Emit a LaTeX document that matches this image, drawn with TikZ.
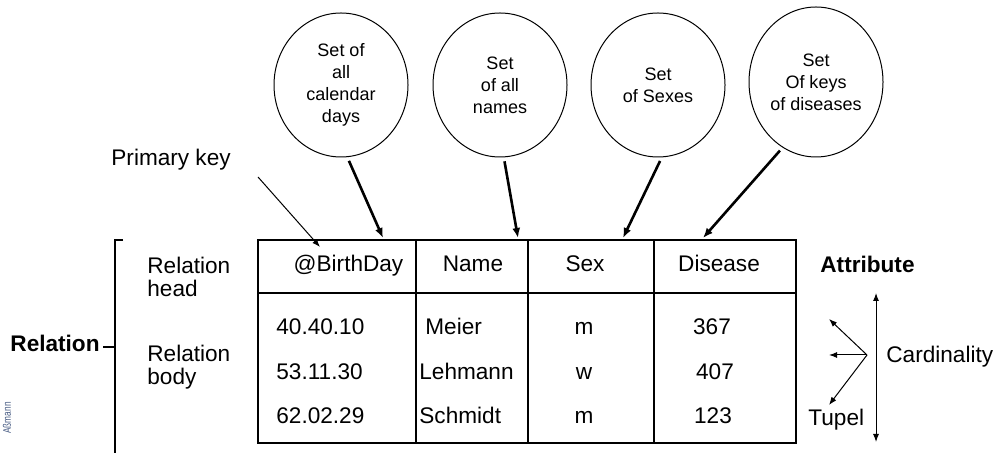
\documentclass[tikz,border=0pt]{standalone}
\usepackage{fontspec}
\setmainfont{Liberation Sans}
\usetikzlibrary{arrows.meta, positioning, shapes.geometric}

\begin{document}
\begin{tikzpicture}[
        x=0.5pt, y=-0.5pt,
        txt/.style={inner sep=0pt, font=\fontsize{11.3}{11.7}\selectfont, align=left},
        boldtxt/.style={inner sep=0pt, font=\fontsize{11.3}{13}\selectfont\bfseries},
        set/.style={ellipse, draw, line width=0.5pt, minimum width=67pt, minimum height=72pt, inner sep=0pt, align=center, font=\fontsize{9}{11}\selectfont},
        cell/.style={rectangle, draw, line width=0.7pt, minimum height=26.5pt, inner sep=0pt},
        bodycell/.style={rectangle, draw, line width=0.7pt, minimum height=75pt, inner sep=0pt},
        arrow/.style={-{Latex[length=5pt, width=4pt]}, line width=1.3pt, shorten <=2pt},
        thinarrow/.style={-{Latex[length=4pt, width=3pt]}, line width=0.5pt}
    ]
        \useasboundingbox (0,0) rectangle (1000,453);

        \node[set] (days) at (341,85) {Set of\\all\\calendar\\days};
        \node[set] (names) at (500,85) {Set\\of all\\names};
        \node[set] (sexes) at (658,85) {Set\\of Sexes};
        \node[set, minimum height=75pt] (diseases) at (816,82) {Set\\Of keys\\of diseases};

        \node[cell, minimum width=79pt] (hkey) at (337,266.5) {};
        \node[cell, minimum width=56pt] (hname) at (472,266.5) {};
        \node[cell, minimum width=63pt] (hsex) at (591,266.5) {};
        \node[cell, minimum width=71pt] (hdisease) at (725,266.5) {};
        \node[bodycell, minimum width=79pt] (bkey) at (337,368) {};
        \node[bodycell, minimum width=56pt] (bname) at (472,368) {};
        \node[bodycell, minimum width=63pt] (bsex) at (591,368) {};
        \node[bodycell, minimum width=71pt] (bdisease) at (725,368) {};

        \node[txt, anchor=base] (tkey) at (348.5,272) {@BirthDay};
        \node[txt, anchor=base] (tname) at (473,272) {Name};
        \node[txt, anchor=base] (tsex) at (585,272) {Sex};
        \node[txt, anchor=base] (tdisease) at (719,272) {Disease};

        \node[txt, anchor=base west] (d1) at (276,335) {40.40.10};
        \node[txt, anchor=base west] (d2) at (276,380) {53.11.30};
        \node[txt, anchor=base west] (d3) at (276,424) {62.02.29};
        \node[txt, anchor=base west] (n1) at (425,335) {Meier};
        \node[txt, anchor=base west] (n2) at (419,380) {Lehmann};
        \node[txt, anchor=base west] (n3) at (419,424) {Schmidt};
        \node[txt, anchor=base] (s1) at (584,335) {m};
        \node[txt, anchor=base] (s2) at (584,380) {w};
        \node[txt, anchor=base] (s3) at (584,424) {m};
        \node[txt, anchor=base] (k1) at (712,335) {367};
        \node[txt, anchor=base] (k2) at (715,380) {407};
        \node[txt, anchor=base] (k3) at (713,424) {123};

        \coordinate (tdays) at (383,238);
        \coordinate (tnames) at (518,238);
        \coordinate (tsexes) at (623,238);
        \coordinate (tdiseases) at (703,238);
        \draw[arrow] (days.-85) -- (tdays);
        \draw[arrow] (names.-87) -- (tnames);
        \draw[arrow] (sexes.-87) -- (tsexes);
        \draw[arrow] (diseases.-117) -- (tdiseases);

        \node[txt, anchor=base west] (pk) at (111,166) {Primary key};
        \coordinate (pkfrom) at (258,177);
        \coordinate (pkto) at (320,247);
        \draw[thinarrow] (pkfrom) -- (pkto);

        \node[boldtxt, anchor=base east] (rel) at (100,352) {Relation};
        \draw[line width=0.6pt] (123,240) -- (115,240) -- (115,453);
        \draw[line width=0.6pt] ([xshift=1.5pt]rel.east |- 0,347) -- (115,347);
        \node[txt, anchor=west] (rhead) at (147,277) {Relation\\head};
        \node[txt, anchor=west] (rbody) at (147,367) {Relation\\body};

        \node[boldtxt, anchor=base west] (attr) at (820,272.5) {Attribute};
        \node[txt, anchor=base west] (card) at (886,363) {Cardinality};
        \node[txt, anchor=base west] (tupel) at (808,426) {Tupel};
        \coordinate (ctop) at (876,293);
        \coordinate (cbot) at (876,442);
        \draw[thinarrow, {Latex[length=4pt, width=3pt]}-{Latex[length=4pt, width=3pt]}] (ctop) -- (cbot);
        \coordinate (fan) at (867,355);
        \coordinate (fan1) at (829,319);
        \coordinate (fan2) at (829,355);
        \coordinate (fan3) at (829,405);
        \draw[thinarrow] (fan) -- (fan1);
        \draw[thinarrow] (fan) -- (fan2);
        \draw[thinarrow] (fan) -- (fan3);

        \node[inner sep=0pt, rotate=90, font=\fontsize{5.5}{6}\selectfont, text={rgb,255:red,70;green,90;blue,130}] (author) at (7,418) {\scalebox{0.75}[1]{Aßmann}};
    \end{tikzpicture}
\end{document}
